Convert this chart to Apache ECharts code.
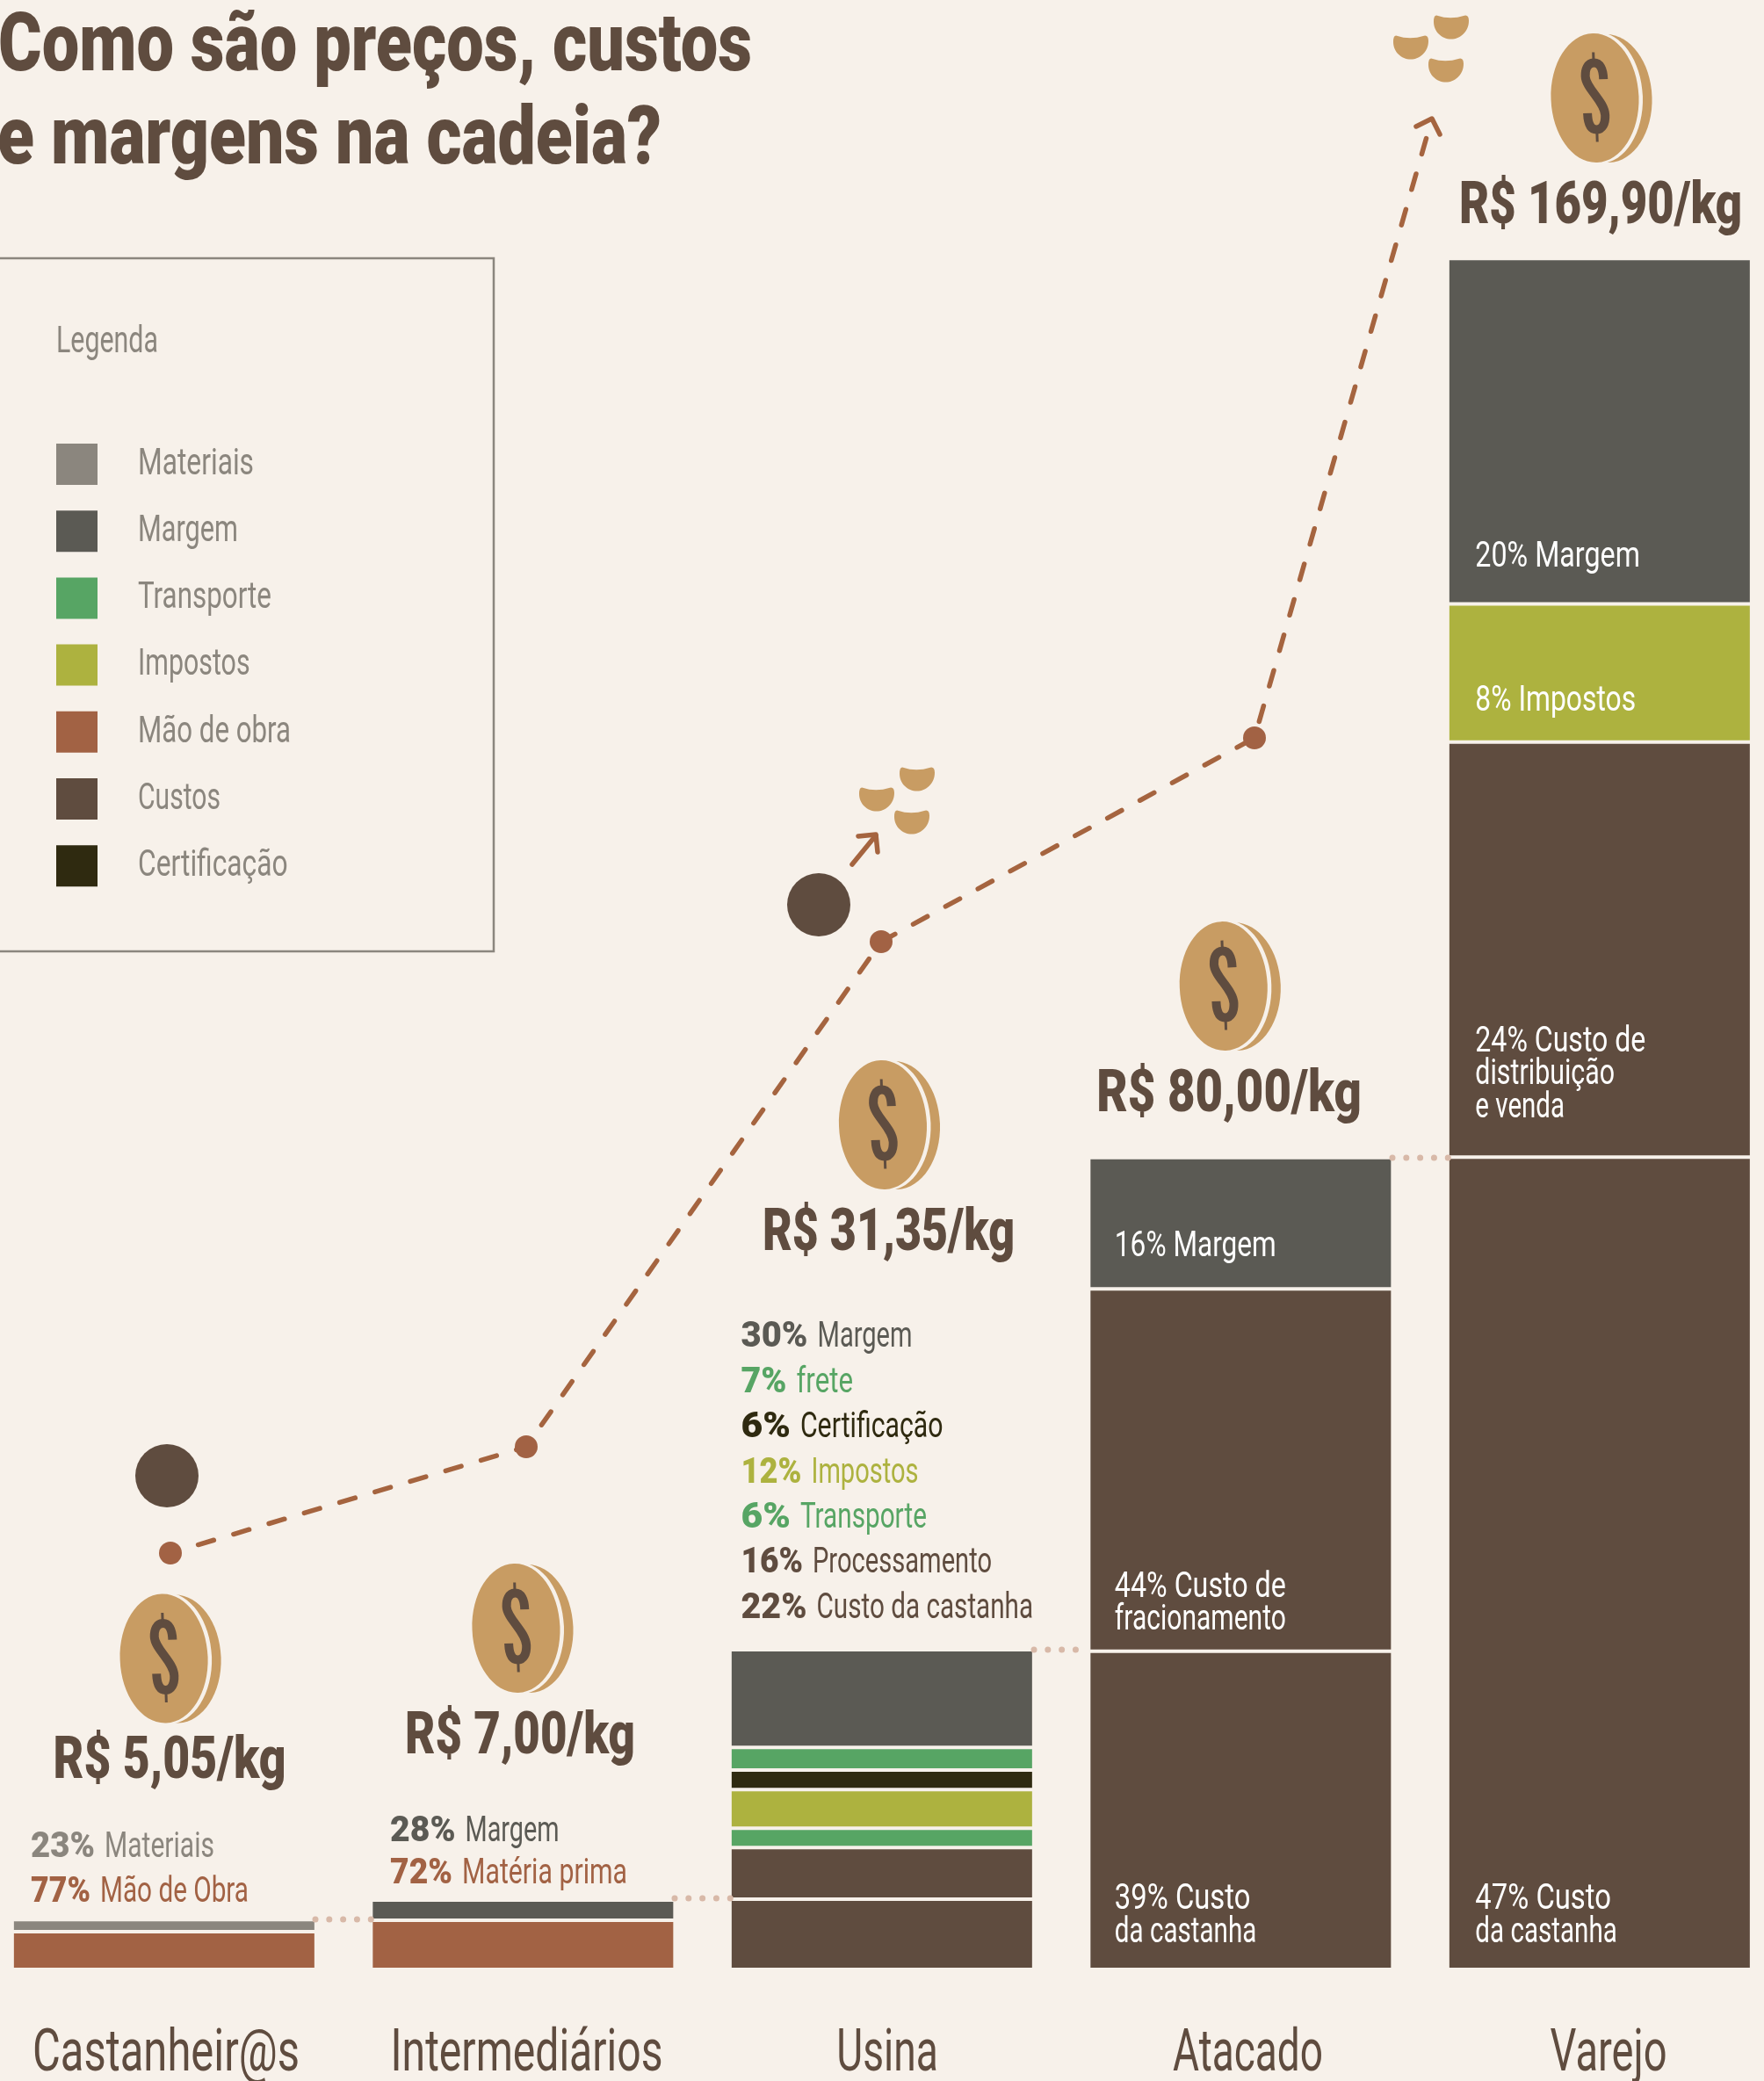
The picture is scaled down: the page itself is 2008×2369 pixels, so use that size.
<!DOCTYPE html>
<html lang="pt-BR">
<head>
    <meta charset="UTF-8">
    <title>Como são preços, custos e margens na cadeia?</title>
    <script src="https://cdn.jsdelivr.net/npm/echarts@6/dist/echarts.min.js"></script>
    <style>
        html, body { margin: 0; padding: 0; background: #f7f1ea; }
        #main { width: 2008px; height: 2369px; }
    </style>
</head>
<body>
<div id="main"></div>
<script type="text/javascript">
    // elos da cadeia
    var elos = ['Castanheir@s', 'Intermediários', 'Usina', 'Atacado', 'Varejo'];

    var maoDeObra = [3.75, 4.89, null, null, null];
    var custoCastanha = [null, null, 6.98, 31.6, 80.67];
    var custoEtapa = [null, null, 5.12, 35.97, 41.21];
    var transporte = [null, null, 1.93, null, null];
    var impostos = [null, null, 3.84, null, 13.7];
    var certificacao = [null, null, 1.93, null, null];
    var frete = [null, null, 2.25, null, null];
    var materiais = [1.2, null, null, null, null];
    var margem = [null, 2.0, 9.7, 13.05, 34.32];

    // textos dentro das barras
    var rotuloCastanha = [null, null, null, '39% Custo\nda castanha', '47% Custo\nda castanha'];
    var rotuloEtapa = [null, null, null, '44% Custo de\nfracionamento', '24% Custo de\ndistribuição\ne venda'];
    var rotuloImpostos = [null, null, null, null, '8% Impostos'];
    var rotuloMargem = [null, null, null, '16% Margem', '20% Margem'];

    // textos acima das barras
    var notasCastanheiros = [['23%', 'Materiais', 'cinza'], ['77%', 'Mão de Obra', 'terra']];
    var notasIntermediarios = [['28%', 'Margem', 'margem'], ['72%', 'Matéria prima', 'terra']];
    var notasUsina = [['30%', 'Margem', 'margem'], ['7%', 'frete', 'verde'], ['6%', 'Certificação', 'escuro'],
        ['12%', 'Impostos', 'oliva'], ['6%', 'Transporte', 'verde'], ['16%', 'Processamento', 'custo'],
        ['22%', 'Custo da castanha', 'custo']];

    var precos = ['R$ 5,05/kg', 'R$ 7,00/kg', 'R$ 31,35/kg', 'R$ 80,00/kg', 'R$ 169,90/kg'];
    var legenda = ['Materiais', 'Margem', 'Transporte', 'Impostos', 'Mão de obra', 'Custos', 'Certificação'];

    // elementos ilustrativos, em pixels da página
    var trajeto = [[194, 1768], [599, 1647], [1003, 1072], [1428, 840], [1630, 135]];
    var moedas = [[186.6, 1888], [587.5, 1853.5], [1005, 1280.5], [1392.8, 1122.6], [1815.5, 111.5]];
    var sementes = [[998, 910], [1044, 887], [1038, 936], [1606, 54], [1652, 31], [1646, 80]];
    var bolas = [[190, 1680], [932, 1030]];
    var pontilhados = [[[359, 2185], [423, 2185]], [[768, 2161], [832, 2161]], [[1177, 1878], [1240, 1878]], [[1585, 1318], [1649, 1318]]];
    var setaTopo = [[1612, 144], [1630, 135], [1639, 153]];
    var setaUsina = [[970, 984], [997, 951]];
    var setaUsinaPonta = [[977, 952], [997, 950], [999, 970]];

    var cores = {
        fundo: '#f7f1ea', cinza: '#8b867e', margem: '#5b5a54', verde: '#57a564', oliva: '#adb23f',
        terra: '#a26244', custo: '#5f4c3f', escuro: '#2f2a10', moeda: '#c89c63', linha: '#a5643f', pontos: '#d8b9a8'
    };
    var fonte = "Roboto, 'Noto Sans', sans-serif";

    // larguras no original, em px: a fonte de lá é bem mais estreita,
    // então cada texto é comprimido na horizontal até caber nelas
    var largura = {
        'Castanheir@s': 304, 'Intermediários': 310, 'Usina': 115.5, 'Atacado': 171, 'Varejo': 133,
        '20% Margem': 187.6, '8% Impostos': 182.7, '24% Custo de': 194, 'distribuição': 158.7, 'e venda': 101.7,
        '16% Margem': 184, '44% Custo de': 195, 'fracionamento': 195, '39% Custo': 154.5, '47% Custo': 154.5, 'da castanha': 161.5,
        'Legenda': 116, 'Materiais': 132, 'Margem': 114, 'Transporte': 152, 'Impostos': 127.6, 'Mão de obra': 174, 'Custos': 94, 'Certificação': 170.5,
        'R$ 5,05/kg': 265, 'R$ 7,00/kg': 262, 'R$ 31,35/kg': 287, 'R$ 80,00/kg': 301.5, 'R$ 169,90/kg': 322,
        'Como são preços, custos': 858, 'e margens na cadeia?': 756
    };
    var largurasCastanheiros = [[73, 125], [68, 169]];
    var largurasIntermediarios = [[74.5, 107], [71, 188]];
    var largurasUsina = [[76, 108], [52, 64.5], [56.4, 162.6], [69, 122], [56.4, 144], [70.5, 204], [75, 246.6]];

    var regua = document.createElement('canvas').getContext('2d');
    function mede(txt, tamanho, peso) {
        regua.font = (peso || 'normal') + ' ' + tamanho + 'px ' + fonte;
        return regua.measureText(txt).width;
    }

    function texto(x, linhaBase, conteudo, tamanho, cor, peso, larg, alinhamento) {
        return {
            type: 'text',
            x: x,
            y: linhaBase - 0.28 * tamanho,
            scaleX: (larg || largura[conteudo]) / mede(conteudo, tamanho, peso),
            silent: true,
            style: {
                text: conteudo,
                fill: cor,
                fontFamily: fonte,
                fontSize: tamanho,
                fontWeight: peso || 'normal',
                align: alinhamento || 'left',
                verticalAlign: 'middle'
            }
        };
    }

    function bloco(x, linhaBase, passo, linhas, larguras) {
        var saida = [];
        linhas.forEach(function (l, i) {
            var base = linhaBase + i * passo;
            saida.push(texto(x, base, l[0], 41.5, cores[l[2]], '900', larguras[i][0]));
            saida.push(texto(x + larguras[i][0] + 11, base, l[1], 41.5, cores[l[2]], 'normal', larguras[i][1]));
        });
        return saida;
    }

    function serieBarra(nome, valores, cor) {
        return {
            name: nome,
            type: 'bar',
            stack: 'cadeia',
            barWidth: 346,
            xAxisIndex: 0,
            yAxisIndex: 0,
            data: valores,
            itemStyle: {color: cor, borderColor: cores.fundo, borderWidth: 2}
        };
    }

    function serieLinha(dados, espessura, tipo, cor) {
        return {
            type: 'line',
            xAxisIndex: 2,
            yAxisIndex: 2,
            data: dados,
            symbol: 'none',
            silent: true,
            lineStyle: {color: cor || cores.linha, width: espessura, type: tipo, cap: 'round', join: 'round'}
        };
    }

    // altura da base de uma faixa = soma das faixas abaixo dela
    function somaAbaixo(faixas, i) {
        return faixas.reduce(function (s, f) { return s + (f[i] || 0); }, 0);
    }

    var faixasCastanha = [];
    var faixasEtapa = [custoCastanha];
    var faixasImpostos = [custoCastanha, custoEtapa, transporte];
    var faixasMargem = [maoDeObra, custoCastanha, custoEtapa, transporte, impostos, certificacao, frete, materiais];
    var rotulosBarra = [];

    // distancia: da base da faixa à linha de base da última linha do rótulo
    function juntaRotulos(rotulos, faixas, distancia) {
        rotulos.forEach(function (r, i) {
            if (r) rotulosBarra.push({cat: i, base: somaAbaixo(faixas, i), txt: r, dist: Array.isArray(distancia) ? distancia[i - 3] : distancia});
        });
    }
    juntaRotulos(rotuloCastanha, faixasCastanha, 30);
    juntaRotulos(rotuloEtapa, faixasEtapa, [23, 44]);
    juntaRotulos(rotuloImpostos, faixasImpostos, 34);
    juntaRotulos(rotuloMargem, faixasMargem, [36, 41]);

    function desenhaRotuloBarra(params, api) {
        var r = rotulosBarra[params.dataIndex];
        var p = api.coord([r.cat, r.base]);
        var linhas = r.txt.split('\n');
        return {
            type: 'group',
            children: linhas.map(function (l, k) {
                var base = p[1] - r.dist - (linhas.length - 1 - k) * 37.5;
                return texto(p[0] - 171.5 + (r.cat === 3 ? 28 : 30), base, l, 41.5, '#fff');
            })
        };
    }

    function desenhaElo(params, api) {
        var p = api.coord([api.value(0), 0]);
        return texto(p[0], 2359, elos[params.dataIndex], 66, cores.custo, 'normal', 0, 'center');
    }

    function desenhaMoeda(params, api) {
        var p = api.coord([api.value(0), api.value(1)]);
        return {
            type: 'group',
            x: p[0],
            y: p[1],
            rotation: 0.035,
            children: [
                {type: 'ellipse', shape: {cx: 14, cy: 1, rx: 51, ry: 73}, style: {fill: cores.moeda}},
                {type: 'ellipse', shape: {cx: 4, cy: 0, rx: 50.5, ry: 75}, style: {fill: cores.fundo}},
                {type: 'ellipse', shape: {cx: 0, cy: 0, rx: 50, ry: 73.5}, style: {fill: cores.moeda}},
                {
                    type: 'path',
                    shape: {
                        pathData: 'M10.5 -21C10.5 -33 7 -40 0 -40C-7 -40 -10 -33 -10 -25C-10 -11 11 4 11 20C11 30 7 36 1 36C-6 36 -9 30 -9 17',
                        x: -10, y: -40, width: 21, height: 76, layout: 'cover'
                    },
                    style: {fill: null, stroke: cores.custo, lineWidth: 10}
                },
                {type: 'line', shape: {x1: 0, y1: -52, x2: 0, y2: -42}, style: {stroke: cores.custo, lineWidth: 3}},
                {type: 'line', shape: {x1: 1, y1: 38, x2: 1, y2: 50}, style: {stroke: cores.custo, lineWidth: 3}}
            ]
        };
    }

    function desenhaSemente(params, api) {
        var p = api.coord([api.value(0), api.value(1)]);
        return {
            type: 'path',
            x: p[0],
            y: p[1],
            shape: {
                pathData: 'M-16 -13Q-1 -8 15 -13Q20 -14 20 -7C20 5 10 13.5 0 13.5C-11 13.5 -20 5 -20 -6Q-20 -14 -16 -13Z',
                x: -20, y: -13.5, width: 40, height: 27, layout: 'cover'
            },
            style: {fill: cores.moeda}
        };
    }

    var centrosPreco = [[193, 2026], [592, 1998], [1011.5, 1425], [1399, 1266.7], [1822, 256]];
    var elementosPagina = [
        texto(-2, 83, 'Como são preços, custos', 92, cores.custo, '900'),
        texto(-3, 189, 'e margens na cadeia?', 92, cores.custo, '900'),
        {
            type: 'rect',
            shape: {x: -10, y: 294, width: 572, height: 789},
            style: {fill: null, stroke: cores.cinza, lineWidth: 2.5},
            silent: true
        },
        texto(64, 402, 'Legenda', 43, cores.cinza)
    ];
    centrosPreco.forEach(function (c, i) {
        elementosPagina.push(texto(c[0], c[1], precos[i], 67, cores.custo, '900', 0, 'center'));
    });
    legenda.forEach(function (nome, i) {
        elementosPagina.push(texto(157, 541 + i * 76.2, nome, 43, cores.cinza));
    });
    elementosPagina = elementosPagina
        .concat(bloco(35, 2115, 51, notasCastanheiros, largurasCastanheiros))
        .concat(bloco(444, 2097, 48, notasIntermediarios, largurasIntermediarios))
        .concat(bloco(843.5, 1534.7, 51.4, notasUsina, largurasUsina));

    var option = {
        backgroundColor: cores.fundo,
        animation: false,
        legend: {
            data: legenda,
            orient: 'vertical',
            left: 64,
            top: 505,
            padding: 0,
            itemWidth: 47,
            itemHeight: 47,
            itemGap: 29.2,
            icon: 'rect',
            selectedMode: false,
            itemStyle: {borderWidth: 0},
            formatter: function () { return ' '; }
        },
        grid: [
            {left: -17.4, width: 2042.5, top: 293, bottom: 127, outerBoundsMode: 'none'},
            {left: -16.25, width: 2052.5, top: 2240, height: 1, outerBoundsMode: 'none'},
            {left: 0, top: 0, width: 2008, height: 2369, outerBoundsMode: 'none'}
        ],
        xAxis: [
            {type: 'category', gridIndex: 0, data: elos, show: false},
            {type: 'category', gridIndex: 1, data: elos, show: false},
            {type: 'value', gridIndex: 2, min: 0, max: 2008, show: false}
        ],
        yAxis: [
            {type: 'value', gridIndex: 0, min: 0, max: 170, show: false},
            {type: 'value', gridIndex: 1, min: 0, max: 1, show: false},
            {type: 'value', gridIndex: 2, min: 0, max: 2369, inverse: true, show: false}
        ],
        series: [
            serieBarra('Mão de obra', maoDeObra, cores.terra),
            serieBarra('Custos', custoCastanha, cores.custo),
            serieBarra('Custos', custoEtapa, cores.custo),
            serieBarra('Transporte', transporte, cores.verde),
            serieBarra('Impostos', impostos, cores.oliva),
            serieBarra('Certificação', certificacao, cores.escuro),
            serieBarra('Transporte', frete, cores.verde),
            serieBarra('Materiais', materiais, cores.cinza),
            serieBarra('Margem', margem, cores.margem)
        ].concat(pontilhados.map(function (d) {
            return serieLinha(d, 7, [0.01, 15.8], cores.pontos);
        })).concat([
            {
                type: 'line',
                xAxisIndex: 2,
                yAxisIndex: 2,
                silent: true,
                data: trajeto.map(function (p, i) {
                    return i < trajeto.length - 1 ? p : {value: p, symbol: 'none'};
                }),
                symbol: 'circle',
                symbolSize: 26,
                showAllSymbol: true,
                itemStyle: {color: cores.terra},
                lineStyle: {color: cores.linha, width: 5.5, type: [18.5, 23.5], dashOffset: 9, cap: 'round'},
                z: 3
            },
            serieLinha(setaTopo, 5.5, 'solid'),
            serieLinha(setaUsina, 5.5, 'solid'),
            serieLinha(setaUsinaPonta, 5.5, 'solid'),
            {
                type: 'scatter',
                xAxisIndex: 2,
                yAxisIndex: 2,
                data: bolas,
                symbolSize: 72,
                silent: true,
                itemStyle: {color: cores.custo, opacity: 1}
            },
            {type: 'custom', xAxisIndex: 2, yAxisIndex: 2, data: moedas, renderItem: desenhaMoeda, silent: true},
            {type: 'custom', xAxisIndex: 2, yAxisIndex: 2, data: sementes, renderItem: desenhaSemente, silent: true},
            {
                type: 'custom',
                xAxisIndex: 0,
                yAxisIndex: 0,
                data: rotulosBarra.map(function (r) { return [r.cat, r.base]; }),
                renderItem: desenhaRotuloBarra,
                silent: true,
                z: 4
            },
            {
                type: 'custom',
                xAxisIndex: 1,
                yAxisIndex: 1,
                data: elos.map(function (e, i) { return [i, 0]; }),
                renderItem: desenhaElo,
                silent: true
            }
        ]),
        graphic: elementosPagina
    };

    var myChart = echarts.init(document.getElementById('main'), null, {renderer: 'canvas'});
    myChart.setOption(option);
</script>
</body>
</html>
